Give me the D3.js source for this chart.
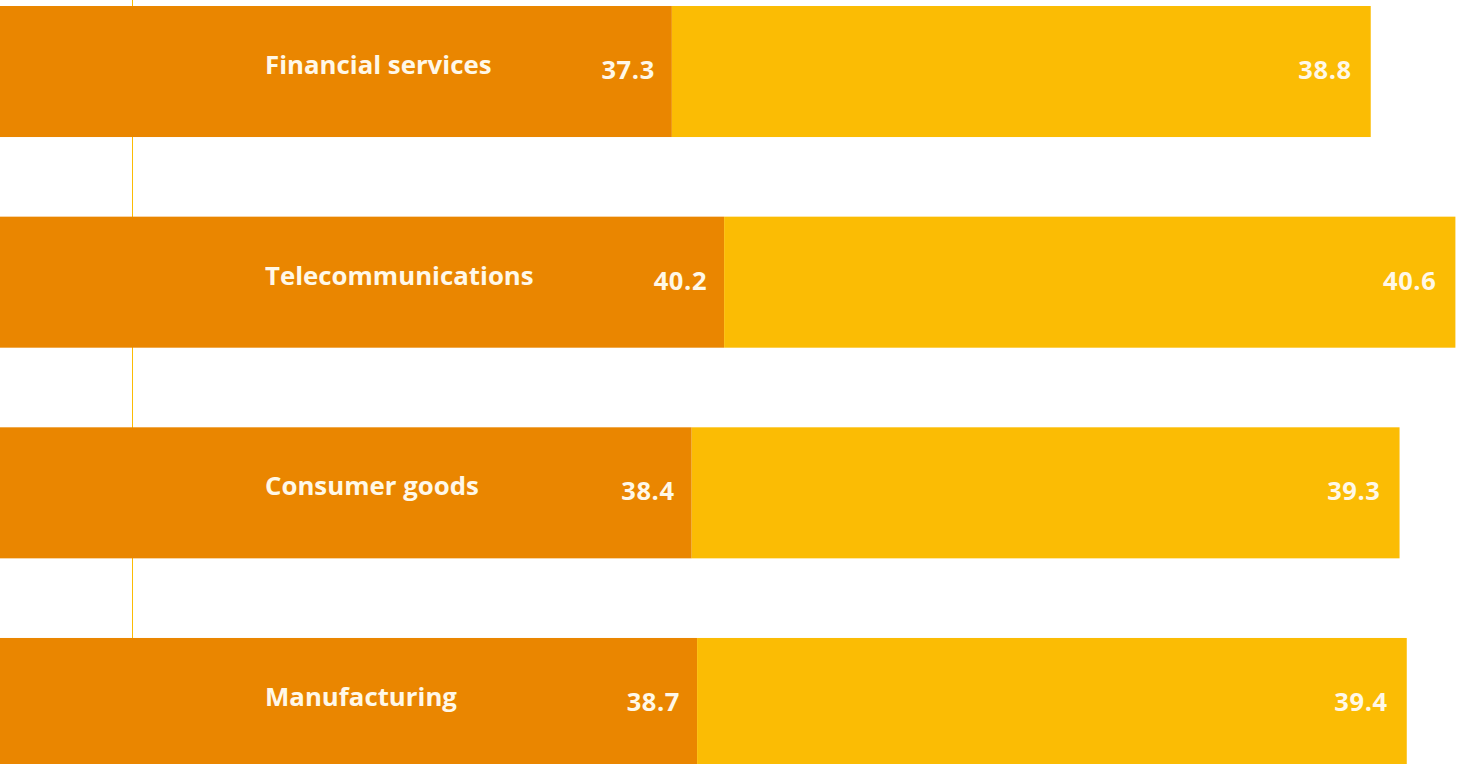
<!DOCTYPE html>
<html>
<head>
<meta charset="utf-8">
<script src="https://cdn.jsdelivr.net/npm/d3@7"></script>
<style>
  html, body { margin: 0; padding: 0; background: #ffffff; overflow: hidden; }
  svg { display: block; }
  text { font-family: "Open Sans", "Noto Sans", sans-serif; font-weight: 700; fill: #FFF8E8; }
</style>
</head>
<body>
<svg id="chart" width="1459" height="764"></svg>
<script>
const categories = ["Financial services", "Telecommunications", "Consumer goods", "Manufacturing"];
const seriesA = [37.3, 40.2, 38.4, 38.7];
const seriesB = [38.8, 40.6, 39.3, 39.4];

const W = 1459, H = 764;
const svg = d3.select("#chart");

const x = d3.scaleLinear().domain([0, 81]).range([0, W]);
const y = d3.scaleBand().domain(categories).range([6, 769]).paddingInner(0.378).paddingOuter(0);

const rows = categories.map((c, i) => ({ cat: c, a: seriesA[i], b: seriesB[i] }));

// decorative vertical line
svg.append("line")
  .attr("x1", 132.5).attr("x2", 132.5)
  .attr("y1", 0).attr("y2", H)
  .attr("stroke", "#FBBC04").attr("stroke-width", 1);

const g = svg.selectAll("g.row").data(rows).enter().append("g").attr("class", "row");

g.append("rect")
  .attr("x", x(0))
  .attr("y", d => y(d.cat))
  .attr("width", d => x(d.a) - x(0))
  .attr("height", y.bandwidth())
  .attr("fill", "#EA8600");

g.append("rect")
  .attr("x", d => x(d.a))
  .attr("y", d => y(d.cat))
  .attr("width", d => x(d.a + d.b) - x(d.a))
  .attr("height", y.bandwidth())
  .attr("fill", "#FBBC04");

g.append("text")
  .attr("x", 265)
  .attr("y", d => y(d.cat) + 68)
  .attr("font-size", 25.8)
  .text(d => d.cat);

g.append("text")
  .attr("x", d => x(d.a) - 17)
  .attr("y", d => y(d.cat) + 73)
  .attr("text-anchor", "end")
  .attr("font-size", 25.5)
  .attr("letter-spacing", 0.6)
  .text(d => d.a.toFixed(1));

g.append("text")
  .attr("x", d => x(d.a + d.b) - 19)
  .attr("y", d => y(d.cat) + 73)
  .attr("text-anchor", "end")
  .attr("font-size", 25.5)
  .attr("letter-spacing", 0.6)
  .text(d => d.b.toFixed(1));
</script>
</body>
</html>
